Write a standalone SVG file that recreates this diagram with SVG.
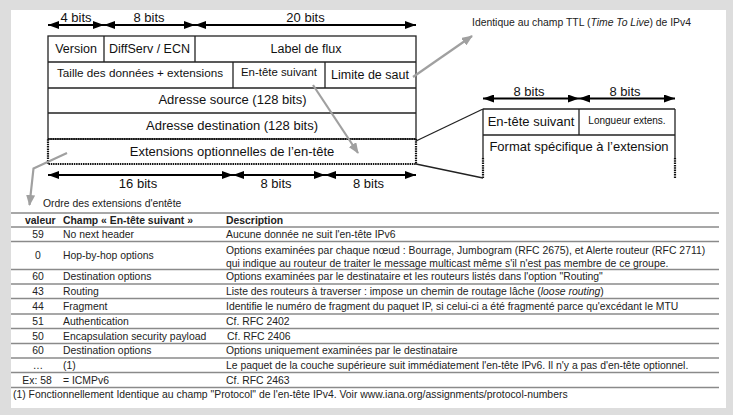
<svg xmlns="http://www.w3.org/2000/svg" width="733" height="415" viewBox="0 0 733 415">
<style>
text{font-family:"Liberation Sans",Arial,sans-serif;fill:#111}
.m{font-size:12.5px;text-anchor:middle}
.b{font-size:13px;text-anchor:middle}
.t{font-size:10.4px;fill:#222}
.tc{font-size:10.4px;fill:#222;text-anchor:middle}
.h{font-size:10.4px;font-weight:bold;fill:#222}
.cell{fill:none;stroke:#222;stroke-width:1.3}
.dot{fill:none;stroke:#111;stroke-width:2.2;stroke-dasharray:1.5 0.8}
.arr{stroke:#000;stroke-width:2;fill:none;marker-start:url(#ah);marker-end:url(#ah)}
.g{stroke:#a0a0a0;stroke-width:2.2;fill:none}
.rl{stroke:#8a8a8a;stroke-width:1.4}
</style>
<defs>
<marker id="ah" markerUnits="userSpaceOnUse" markerWidth="11" markerHeight="8" refX="11" refY="4" orient="auto-start-reverse"><path d="M0,0 L11,4 L0,8 z" fill="#000"/></marker>
<marker id="gh" markerUnits="userSpaceOnUse" markerWidth="11" markerHeight="9" refX="10" refY="4.5" orient="auto"><path d="M0,0 L11,4.5 L0,9 z" fill="#a0a0a0"/></marker>
</defs>
<rect x="0" y="0" width="733" height="415" fill="#dddddd"/>
<rect x="11" y="10" width="715" height="398" fill="#ffffff"/>

<g id="ipv6-header">
<rect class="cell" x="48" y="36" width="368" height="103"/>
<line class="cell" x1="48" y1="62" x2="416" y2="62"/>
<line class="cell" x1="48" y1="88" x2="416" y2="88"/>
<line class="cell" x1="48" y1="113" x2="416" y2="113"/>
<line class="cell" x1="104" y1="36" x2="104" y2="62"/>
<line class="cell" x1="195" y1="36" x2="195" y2="62"/>
<line class="cell" x1="233" y1="62" x2="233" y2="88"/>
<line class="cell" x1="325" y1="62" x2="325" y2="88"/>
<rect class="dot" x="48" y="139" width="368" height="25"/>
<text class="m" x="76" y="53">Version</text>
<text class="m" x="149.5" y="53">DiffServ / ECN</text>
<text class="m" x="306" y="53">Label de flux</text>
<text class="m" x="140" y="76.5" style="font-size:11.7px">Taille des données + extensions</text>
<text class="m" x="279" y="76" style="font-size:11.4px">En-tête suivant</text>
<text class="m" x="370" y="78.5">Limite de saut</text>
<text class="b" x="232.5" y="104">Adresse source (128 bits)</text>
<text class="b" x="232" y="130">Adresse destination (128 bits)</text>
<text class="b" x="232" y="156">Extensions optionnelles de l’en-tête</text>
</g>

<g id="top-bits">
<line class="arr" x1="48" y1="25" x2="104" y2="25"/>
<line class="arr" x1="104" y1="25" x2="195" y2="25"/>
<line class="arr" x1="195" y1="25" x2="416" y2="25"/>
<text class="b" x="76" y="21.5">4 bits</text>
<text class="b" x="149" y="21.5">8 bits</text>
<text class="b" x="305.5" y="21.5">20 bits</text>
</g>

<g id="bottom-bits">
<line class="arr" x1="48" y1="175" x2="233" y2="175"/>
<line class="arr" x1="233" y1="175" x2="325" y2="175"/>
<line class="arr" x1="325" y1="175" x2="416" y2="175"/>
<text class="b" x="138" y="187.5">16 bits</text>
<text class="b" x="276" y="187.5">8 bits</text>
<text class="b" x="368.5" y="187.5">8 bits</text>
</g>

<g id="extension-format">
<line class="cell" x1="483" y1="109" x2="675" y2="109"/>
<line class="cell" x1="483" y1="135" x2="675" y2="135"/>
<line class="cell" x1="579" y1="109" x2="579" y2="135"/>
<line class="cell" x1="483" y1="109" x2="483" y2="158"/>
<line class="cell" x1="675" y1="109" x2="675" y2="158"/>
<line class="dot" x1="483" y1="158" x2="483" y2="178"/>
<line class="dot" x1="675" y1="158" x2="675" y2="178"/>
<line class="arr" x1="483" y1="98.5" x2="579" y2="98.5"/>
<line class="arr" x1="579" y1="98.5" x2="675" y2="98.5"/>
<text class="b" x="529" y="96">8 bits</text>
<text class="b" x="625" y="96">8 bits</text>
<text class="b" x="531" y="126">En-tête suivant</text>
<text class="m" x="627" y="124" style="font-size:10px">Longueur extens.</text>
<text class="b" x="579" y="150.5">Format spécifique à l’extension</text>
</g>

<g id="ttl-note">
<text x="472" y="26" style="font-size:10.4px;fill:#222">Identique au champ TTL (<tspan font-style="italic">Time To Live</tspan>) de IPv4</text>
</g>

<g id="connectors">
<line x1="416" y1="141" x2="483" y2="109" stroke="#222" stroke-width="1.3"/>
<line x1="416" y1="164" x2="483" y2="178" stroke="#222" stroke-width="1.3"/>
<line class="g" x1="413" y1="77" x2="472" y2="36" marker-end="url(#gh)"/>
<line class="g" x1="313" y1="85" x2="358" y2="153" marker-end="url(#gh)"/>
<polyline class="g" points="67,153 33.5,168.5 29.5,205" marker-end="url(#gh)"/>
</g>

<g id="order-table">
<text x="43" y="206.5" class="t">Ordre des extensions d'entête</text>
<line class="rl" x1="11" y1="213" x2="719" y2="213"/>
<line class="rl" x1="11" y1="227" x2="719" y2="227"/>
<line class="rl" x1="11" y1="241.5" x2="719" y2="241.5"/>
<line class="rl" x1="11" y1="269.5" x2="719" y2="269.5"/>
<line class="rl" x1="11" y1="284" x2="719" y2="284"/>
<line class="rl" x1="11" y1="298.5" x2="719" y2="298.5"/>
<line class="rl" x1="11" y1="314" x2="719" y2="314"/>
<line class="rl" x1="11" y1="328.5" x2="719" y2="328.5"/>
<line class="rl" x1="11" y1="343.5" x2="719" y2="343.5"/>
<line class="rl" x1="11" y1="358" x2="719" y2="358"/>
<line class="rl" x1="11" y1="372.5" x2="719" y2="372.5"/>
<line class="rl" x1="11" y1="387.5" x2="719" y2="387.5"/>
<text class="h" x="25" y="223.5">valeur</text>
<text class="h" x="63" y="223.5">Champ « En-tête suivant »</text>
<text class="h" x="226" y="223.5">Description</text>

<text class="tc" x="38" y="237.8">59</text>
<text class="t" x="63" y="237.8">No next header</text>
<text class="t" x="226" y="237.8">Aucune donnée ne suit l'en-tête IPv6</text>

<text class="tc" x="38" y="259">0</text>
<text class="t" x="63" y="259">Hop-by-hop options</text>
<text class="t" x="226" y="253.5">Options examinées par chaque nœud : Bourrage, Jumbogram (RFC 2675), et Alerte routeur (RFC 2711)</text>
<text class="t" x="226" y="266.5">qui indique au routeur de traiter le message multicast même s'il n'est pas membre de ce groupe.</text>

<text class="tc" x="38" y="280">60</text>
<text class="t" x="63" y="280">Destination options</text>
<text class="t" x="226" y="280">Options examinées par le destinataire et les routeurs listés dans l'option "Routing"</text>

<text class="tc" x="38" y="294.5">43</text>
<text class="t" x="63" y="294.5">Routing</text>
<text class="t" x="226" y="294.5">Liste des routeurs à traverser : impose un chemin de routage lâche (<tspan font-style="italic">loose routing</tspan>)</text>

<text class="tc" x="38" y="309.8">44</text>
<text class="t" x="63" y="309.8">Fragment</text>
<text class="t" x="226" y="309.8">Identifie le numéro de fragment du paquet IP, si celui-ci a été fragmenté parce qu'excédant le MTU</text>

<text class="tc" x="38" y="324.5">51</text>
<text class="t" x="63" y="324.5">Authentication</text>
<text class="t" x="226" y="324.5">Cf. RFC 2402</text>

<text class="tc" x="38" y="339.5">50</text>
<text class="t" x="63" y="339.5">Encapsulation security payload</text>
<text class="t" x="227" y="339.5">Cf. RFC 2406</text>

<text class="tc" x="38" y="354.3">60</text>
<text class="t" x="63" y="354.3">Destination options</text>
<text class="t" x="226" y="354.3">Options uniquement examinées par le destinataire</text>

<text class="tc" x="38" y="368.5">…</text>
<text class="t" x="63" y="368.5">(1)</text>
<text class="t" x="226" y="368.5">Le paquet de la couche supérieure suit immédiatement l'en-tête IPv6. Il n'y a pas d'en-tête optionnel.</text>

<text class="tc" x="37" y="383.5">Ex: 58</text>
<text class="t" x="63" y="383.5">= ICMPv6</text>
<text class="t" x="226" y="383.5">Cf. RFC 2463</text>

<text class="t" x="13" y="397.5">(1) Fonctionnellement Identique au champ "Protocol" de l'en-tête IPv4. Voir www.iana.org/assignments/protocol-numbers</text>
</g>
</svg>
